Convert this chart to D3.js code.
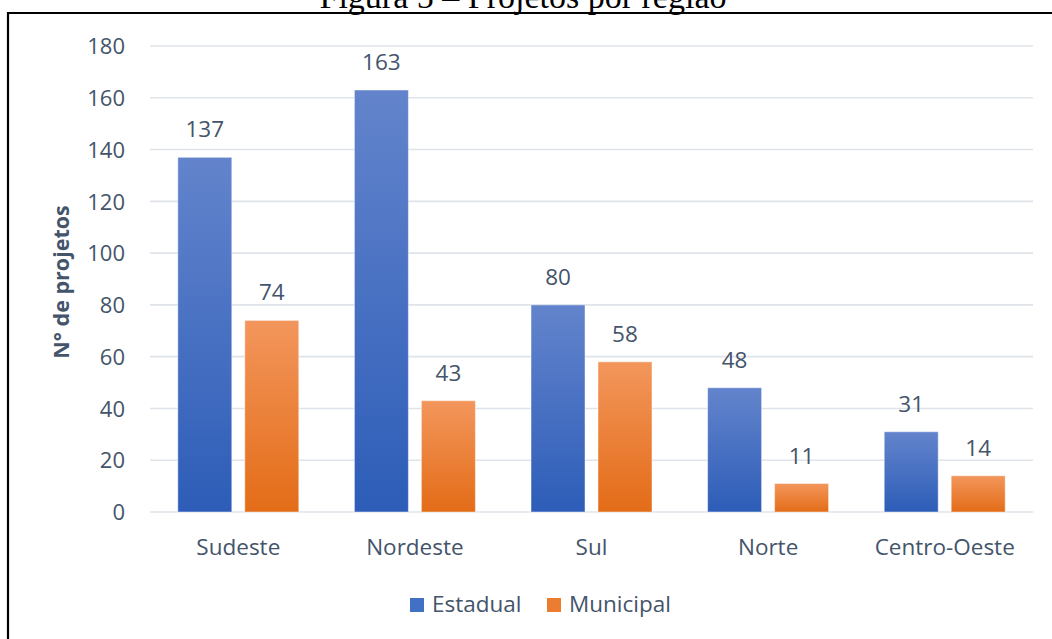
<!DOCTYPE html>
<html>
<head>
<meta charset="utf-8">
<script src="https://cdn.jsdelivr.net/npm/d3@7"></script>
<style>
  html, body { margin: 0; padding: 0; background: #fff; }
  svg { display: block; }
</style>
</head>
<body>
<svg id="chart" width="1052" height="639"></svg>
<script>
// Projects per region, split by sphere of government
const regions = ["Sudeste", "Nordeste", "Sul", "Norte", "Centro-Oeste"];
const seriesNames = ["Estadual", "Municipal"];
const estadual = [137, 163, 80, 48, 31];
const municipal = [74, 43, 58, 11, 14];
const yTicks = [0, 20, 40, 60, 80, 100, 120, 140, 160, 180];
const titleText = "Figura 5 – Projetos por região";
const yAxisTitle = "N° de projetos";

const seriesValues = { Estadual: estadual, Municipal: municipal };
const gradientStops = {
  Estadual: ["#6384cc", "#2d5db8"],
  Municipal: ["#f3965c", "#e36c17"]
};
const swatchColor = { Estadual: "#4270c4", Municipal: "#ec7c30" };
const textColor = "#44546a";
const font = "'Open Sans', 'Noto Sans', sans-serif";
const labelSize = 22.5;

const svg = d3.select("#chart");
svg.append("rect").attr("width", 1052).attr("height", 639).attr("fill", "#fff");

// Figure caption (serif, sitting on the top edge of the frame)
svg.append("text")
  .attr("x", 523).attr("y", 7.5)
  .attr("text-anchor", "middle")
  .attr("font-family", "'Liberation Serif', 'Times New Roman', serif")
  .attr("font-size", 34)
  .attr("fill", "#000")
  .text(titleText);

// Frame around the chart
svg.append("path")
  .attr("d", "M8,640 L8,13 L1053,13")
  .attr("fill", "none")
  .attr("stroke", "#000")
  .attr("stroke-width", 2.2);

// Gradients for bars
const defs = svg.append("defs");
seriesNames.forEach(s => {
  const g = defs.append("linearGradient")
    .attr("id", "grad-" + s)
    .attr("x1", 0).attr("y1", 0).attr("x2", 0).attr("y2", 1);
  g.append("stop").attr("offset", "0%").attr("stop-color", gradientStops[s][0]);
  g.append("stop").attr("offset", "100%").attr("stop-color", gradientStops[s][1]);
});

const plotLeft = 150, plotRight = 1033, plotTop = 46, plotBottom = 512;

const y = d3.scaleLinear().domain([0, 180]).range([plotBottom, plotTop]);
const x0 = d3.scaleBand().domain(regions).range([plotLeft, plotRight])
  .paddingInner(0.315).paddingOuter(0.1575);
const x1 = d3.scaleBand().domain(seriesNames).range([0, x0.bandwidth()])
  .paddingInner(0.194).paddingOuter(0);

// Horizontal gridlines
svg.append("g").selectAll("line")
  .data(yTicks)
  .join("line")
  .attr("x1", plotLeft).attr("x2", plotRight)
  .attr("y1", d => y(d)).attr("y2", d => y(d))
  .attr("stroke", "#dfe3ea")
  .attr("stroke-width", 1.6);

// Y axis tick labels
const yAxis = d3.axisLeft(y).tickValues(yTicks).tickSize(0).tickPadding(0);
const yg = svg.append("g").attr("transform", "translate(125,0)").call(yAxis);
yg.select(".domain").remove();
yg.selectAll("text")
  .attr("font-family", font)
  .attr("font-size", 22)
  .attr("fill", textColor)
  .attr("dy", "0.35em");

// Y axis title
svg.append("text")
  .attr("transform", "translate(69,282) rotate(-90)")
  .attr("text-anchor", "middle")
  .attr("font-family", font)
  .attr("font-weight", "bold")
  .attr("font-size", 21.5)
  .attr("fill", textColor)
  .text(yAxisTitle);

// Bars
const groups = svg.append("g").selectAll("g")
  .data(regions.map((r, i) => ({ region: r, i })))
  .join("g")
  .attr("transform", d => `translate(${x0(d.region)},0)`);

groups.selectAll("rect")
  .data(d => seriesNames.map(s => ({ series: s, value: seriesValues[s][d.i] })))
  .join("rect")
  .attr("x", d => x1(d.series))
  .attr("width", x1.bandwidth())
  .attr("y", d => y(d.value))
  .attr("height", d => y(0) - y(d.value))
  .attr("fill", d => `url(#grad-${d.series})`)
  .attr("stroke", "rgba(255,255,255,0.45)")
  .attr("stroke-width", 1);

// Value labels
groups.selectAll("text")
  .data(d => seriesNames.map(s => ({ series: s, value: seriesValues[s][d.i] })))
  .join("text")
  .attr("x", d => x1(d.series) + x1.bandwidth() / 2)
  .attr("y", d => y(d.value) - 20)
  .attr("text-anchor", "middle")
  .attr("font-family", font)
  .attr("font-size", labelSize)
  .attr("fill", textColor)
  .text(d => d.value);

// X axis category labels
const xAxis = d3.axisBottom(x0).tickSize(0).tickPadding(0);
const xg = svg.append("g").attr("transform", "translate(0,555)").call(xAxis);
xg.select(".domain").remove();
xg.selectAll("text")
  .attr("font-family", font)
  .attr("font-size", labelSize)
  .attr("fill", textColor)
  .attr("dy", 0);

// Legend
const legendItems = [
  { name: "Estadual", sx: 410, tx: 432 },
  { name: "Municipal", sx: 547, tx: 569 }
];
const legend = svg.append("g");
legend.selectAll("rect")
  .data(legendItems)
  .join("rect")
  .attr("x", d => d.sx).attr("y", 598)
  .attr("width", 14).attr("height", 14)
  .attr("fill", d => swatchColor[d.name]);
legend.selectAll("text")
  .data(legendItems)
  .join("text")
  .attr("x", d => d.tx).attr("y", 612)
  .attr("font-family", font)
  .attr("font-size", labelSize)
  .attr("fill", textColor)
  .text(d => d.name);
</script>
</body>
</html>
